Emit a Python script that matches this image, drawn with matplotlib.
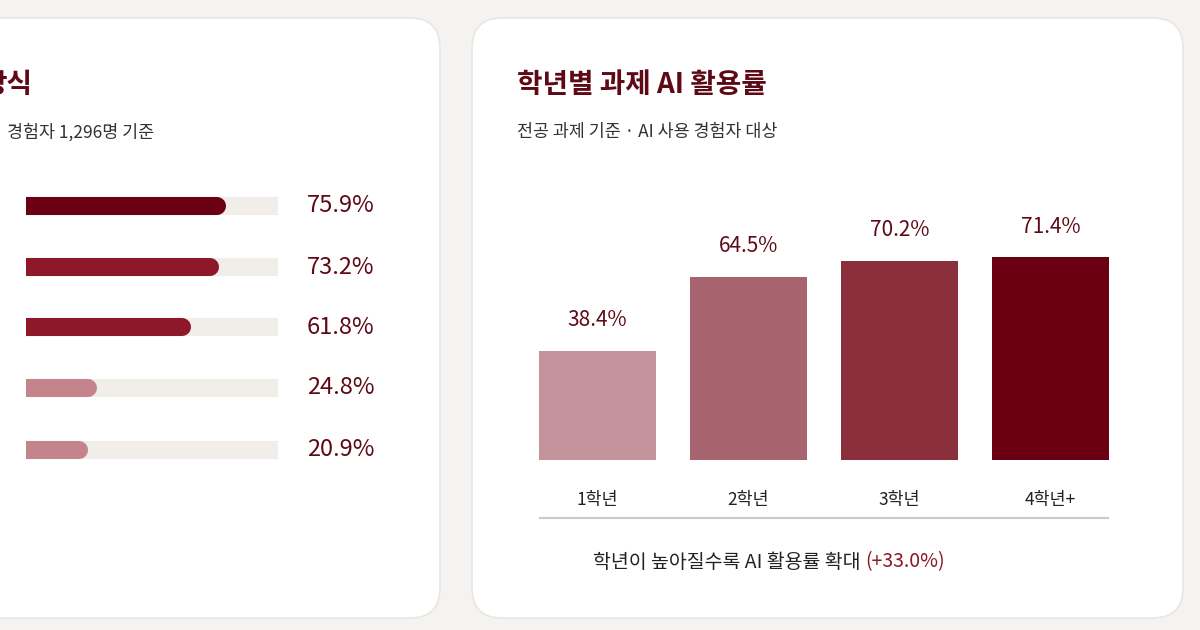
import matplotlib.pyplot as plt
from matplotlib.patches import FancyBboxPatch

plt.rcParams['font.family'] = ['Noto Sans CJK KR', 'DejaVu Sans']

# Left card (partially visible): usage types
left_values = [75.9, 73.2, 61.8, 24.8, 20.9]
left_colors = ['#6b0012', '#8c1828', '#8c1828', '#c4848c', '#c4848c']

# Right card: AI usage by grade
grades = ['1학년', '2학년', '3학년', '4학년+']
grade_values = [38.4, 64.5, 70.2, 71.4]
grade_colors = ['#c4929a', '#a8646e', '#8c2f3c', '#6b0012']

W, H = 1200, 630
fig = plt.figure(figsize=(12, 6.3), dpi=100)
fig.patch.set_facecolor('#f5f3f1')


def fx(x):
    return x / W


def fy(y):
    return 1 - y / H


def card(x0, y0, x1, y1):
    p = FancyBboxPatch((fx(x0), fy(y1)), fx(x1 - x0), (y1 - y0) / H,
                       boxstyle='round,pad=0,rounding_size=0.025',
                       transform=fig.transFigure, facecolor='white',
                       edgecolor='#e9e5e1', linewidth=1.2, mutation_aspect=W / H,
                       zorder=-10)
    fig.add_artist(p)


card(-40, 18, 440, 618)
card(472, 18, 1183, 618)

dark = '#5e0a16'

# Left card texts
fig.text(fx(32), fy(85), '방식', ha='right', va='center', fontsize=20,
         fontweight='bold', color=dark)
fig.text(fx(154), fy(132), '경험자 1,296명 기준', ha='right', va='center',
         fontsize=12.5, color='#333333')

axl = fig.add_axes([fx(26), fy(480), fx(252), 310 / H])
axl.set_xlim(0, 100)
axl.set_ylim(480, 170)
axl.axis('off')
ys = [206, 267, 327, 388, 450]
for y, v, c in zip(ys, left_values, left_colors):
    axl.plot([0, 100], [y, y], color='#f1eeea', lw=13, solid_capstyle='round')
    axl.plot([0, v], [y, y], color=c, lw=13, solid_capstyle='round')
    fig.text(fx(307), fy(y), f'{v}%', ha='left', va='center', fontsize=17,
             color=dark)

# Right card texts
fig.text(fx(517), fy(85), '학년별 과제 AI 활용률', ha='left', va='center',
         fontsize=20, fontweight='bold', color=dark)
fig.text(fx(517), fy(132), '전공 과제 기준 · AI 사용 경험자 대상', ha='left',
         va='center', fontsize=12.5, color='#333333')

axr = fig.add_axes([fx(522), fy(460), fx(604), 260 / H])
axr.set_xlim(-0.5, 3.5)
axr.set_ylim(0, 260 / 2.84)
axr.axis('off')
xs = range(len(grades))
axr.bar(xs, grade_values, width=0.77, color=grade_colors)
for x, v, g in zip(xs, grade_values, grades):
    axr.annotate(f'{v}%', (x, v), xytext=(0, 14), textcoords='offset points',
                 ha='center', va='bottom', fontsize=15, color=dark)
    axr.annotate(g, (x, 0), xytext=(0, -22), textcoords='offset points',
                 ha='center', va='top', fontsize=12.5, color='#222222')

fig.add_artist(plt.Line2D([fx(540), fx(1108)], [fy(518), fy(518)],
                          transform=fig.transFigure, color='#cfcac6', lw=1.5))

# footer: grey part then red part right after it
t1 = fig.text(fx(593), fy(562), '학년이 높아질수록 AI 활용률 확대 ', ha='left',
              va='center', fontsize=14, color='#222222')
fig.canvas.draw()
bb = t1.get_window_extent()
fig.text(bb.x1 / W, fy(562), '(+33.0%)', ha='left', va='center',
         fontsize=14, color='#8c1828')

fig.savefig('out.png', dpi=100, facecolor=fig.get_facecolor())
